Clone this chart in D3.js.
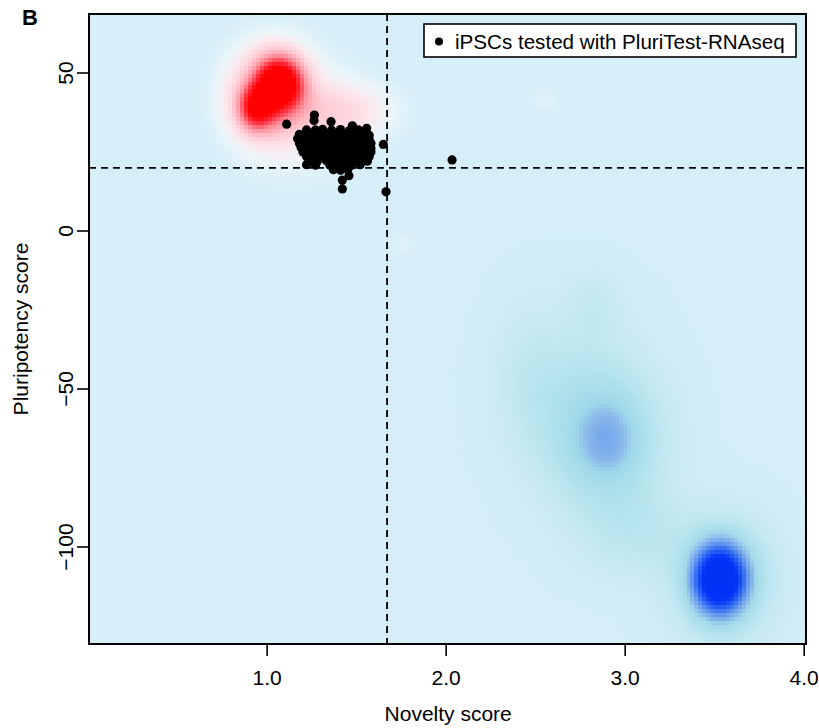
<!DOCTYPE html>
<html><head><meta charset="utf-8">
<script src="https://cdn.jsdelivr.net/npm/d3@7"></script>
<style>body{margin:0;background:#fff} text{font-family:"Liberation Sans",Arial,Helvetica,sans-serif;fill:#000}</style>
</head><body><svg id="c" width="819" height="728"></svg>
<script>
// ---- data ----
const xTicks = [1.0, 2.0, 3.0, 4.0];
const xTickLabels = ["1.0", "2.0", "3.0", "4.0"];
const yTicks = [50, 0, -50, -100];
const yTickLabels = ["50", "0", "\u221250", "\u2212100"];
const noveltyThreshold = 1.67;
const pluripotencyThreshold = 20;
const legendLabel = "iPSCs tested with PluriTest-RNAseq";

// iPSC samples: [novelty, pluripotency]
const samples = [
  [1.22,32.0],[1.27,32.0],[1.31,32.2],[1.36,31.9],[1.41,32.1],[1.46,31.8],[1.51,32.0],[1.55,31.7],
  [1.18,30.6],[1.22,30.4],[1.26,30.7],[1.30,30.5],[1.34,30.8],[1.38,30.5],[1.42,30.6],[1.46,30.4],[1.50,30.7],[1.54,30.5],[1.57,30.3],
  [1.17,29.2],[1.21,29.0],[1.25,29.3],[1.29,29.1],[1.33,29.2],[1.37,29.4],[1.41,29.0],[1.45,29.2],[1.49,29.3],[1.53,29.0],[1.57,29.1],
  [1.18,27.8],[1.22,27.6],[1.26,27.9],[1.30,27.7],[1.34,27.8],[1.38,28.0],[1.42,27.6],[1.46,27.8],[1.50,27.9],[1.54,27.7],[1.58,27.8],
  [1.19,26.4],[1.23,26.2],[1.27,26.5],[1.31,26.3],[1.35,26.4],[1.39,26.6],[1.43,26.3],[1.47,26.4],[1.51,26.5],[1.55,26.3],[1.58,26.2],
  [1.20,25.0],[1.24,24.8],[1.28,25.1],[1.32,24.9],[1.36,25.0],[1.40,25.2],[1.44,24.9],[1.48,25.0],[1.52,25.1],[1.56,24.8],[1.58,25.0],
  [1.22,23.6],[1.26,23.4],[1.30,23.7],[1.34,23.5],[1.38,23.6],[1.42,23.8],[1.46,23.5],[1.50,23.6],[1.54,23.4],[1.57,23.6],
  [1.24,22.2],[1.28,22.0],[1.33,22.3],[1.37,22.1],[1.41,22.2],[1.45,22.4],[1.49,22.0],[1.53,22.2],[1.56,22.1],
  [1.22,21.0],[1.27,20.8],[1.35,20.9],[1.39,20.6],[1.43,20.8],[1.47,20.7],[1.52,21.0],
  [1.37,19.4],[1.41,19.2],[1.45,19.5],
  [1.109,33.8],[1.264,36.7],[1.262,35.0],[1.357,34.6],[1.476,33.3],[1.556,32.5],
  [1.649,27.4],[1.664,12.4],[1.420,16.1],[1.420,13.3],[1.457,17.5],[2.033,22.5]
];

// density background: blobs [centre novelty, centre pluripotency, spread x, spread y, weight]
const pluripotentDensity = [
  [1.07, 47, 0.085, 5.5, 0.9],
  [0.94, 39, 0.065, 4.5, 0.6],
  [1.02, 43, 0.14, 9.0, 0.35],
  [1.42, 38, 0.17, 5.5, 0.13],
  [1.20, 37, 0.20, 10.0, 0.08],
  [2.55, 41.5, 0.05, 2.5, 0.02],
  [1.76, -4, 0.05, 2.5, 0.015]
];
const otherDensity = [
  [3.53, -110, 0.095, 7.0, 1.25],
  [3.55, -110, 0.19, 12.5, 0.2],
  [2.90, -66, 0.11, 8.0, 0.17],
  [2.88, -66, 0.22, 15, 0.2],
  [2.72, -50, 0.25, 18, 0.07],
  [2.45, -45, 0.12, 15, 0.045],
  [2.82, -23, 0.10, 7, 0.05],
  [3.05, -95, 0.22, 10, 0.08]
];

// ---- layout ----
const svg = d3.select("#c");
const L = 89, R = 806, T = 14, B = 644;
const x = d3.scaleLinear().domain([0.005, 4.01]).range([L, R]);
const y = d3.scaleLinear().domain([50, -100]).range([73, 547]);
const yTop = y.invert(T), yBot = y.invert(B);

const redRamp = d3.scaleLinear()
  .domain([0, 0.035, 0.09, 0.2, 0.4, 0.6, 0.8])
  .range(['#d5eef8', '#ebf6fa', '#fbe9ee', '#ffcdd5', '#ff8c98', '#ff3040', '#ff0000'])
  .clamp(true);
const blueRamp = d3.scaleLinear()
  .domain([0, 0.03, 0.08, 0.15, 0.25, 0.33, 0.4, 0.6, 0.85, 1])
  .range(['#d5eef8', '#cdebf4', '#c0e7f0', '#aee1ea', '#a0d8ea', '#8ab8ea', '#7aaaec', '#3a74f2', '#0a3ef6', '#0033f5'])
  .clamp(true);

function dens(blobs, px, py) {
  let s = 0;
  for (const [cx, cy, sx, sy, w] of blobs) {
    const dx = (px - cx) / sx, dy = (py - cy) / sy;
    s += w * Math.exp(-0.5 * (dx * dx + dy * dy));
  }
  return s;
}

const nx = 180, ny = 160;
const xs = d3.range(nx + 1).map(i => x.domain()[0] + (x.domain()[1] - x.domain()[0]) * i / nx);
const ys = d3.range(ny + 1).map(j => yBot + (yTop - yBot) * j / ny);
const cells = [];
for (let i = 0; i < nx; i++) for (let j = 0; j < ny; j++) {
  const cx = (xs[i] + xs[i + 1]) / 2, cy = (ys[j] + ys[j + 1]) / 2;
  const r = dens(pluripotentDensity, cx, cy), b = dens(otherDensity, cx, cy);
  cells.push({x0: xs[i], x1: xs[i + 1], y0: ys[j], y1: ys[j + 1], c: r > b ? redRamp(r - b) : blueRamp(b - r)});
}

svg.append("clipPath").attr("id", "pc").append("rect")
  .attr("x", L).attr("y", T).attr("width", R - L).attr("height", B - T);
const plot = svg.append("g").attr("clip-path", "url(#pc)");
plot.append("g").attr("shape-rendering", "crispEdges").selectAll("rect").data(cells).join("rect")
  .attr("x", d => x(d.x0)).attr("y", d => y(d.y1))
  .attr("width", d => x(d.x1) - x(d.x0) + 0.6).attr("height", d => y(d.y0) - y(d.y1) + 0.6)
  .attr("fill", d => d.c);

// threshold lines
plot.append("line").attr("x1", L).attr("x2", R)
  .attr("y1", y(pluripotencyThreshold)).attr("y2", y(pluripotencyThreshold))
  .attr("stroke", "#000").attr("stroke-width", 1.8).attr("stroke-dasharray", "7,5");
plot.append("line").attr("x1", x(noveltyThreshold)).attr("x2", x(noveltyThreshold))
  .attr("y1", T).attr("y2", B)
  .attr("stroke", "#000").attr("stroke-width", 1.8).attr("stroke-dasharray", "7,5");

// points
plot.append("g").selectAll("circle").data(samples).join("circle")
  .attr("cx", d => x(d[0])).attr("cy", d => y(d[1])).attr("r", 4.6).attr("fill", "#000");

// box
svg.append("rect").attr("x", L).attr("y", T).attr("width", R - L).attr("height", B - T)
  .attr("fill", "none").attr("stroke", "#000").attr("stroke-width", 2);

// axes
const xAxis = svg.append("g");
xAxis.selectAll("line").data(xTicks).join("line")
  .attr("x1", d => x(d)).attr("x2", d => x(d)).attr("y1", B).attr("y2", B + 12)
  .attr("stroke", "#000").attr("stroke-width", 1.6);
xAxis.selectAll("text").data(xTicks).join("text")
  .attr("x", d => x(d)).attr("y", 685).attr("text-anchor", "middle")
  .attr("font-size", 21).text((d, i) => xTickLabels[i]);
svg.append("text").attr("x", x(2.0) + 2).attr("y", 721).attr("text-anchor", "middle")
  .attr("font-size", 21).text("Novelty score");

const yAxis = svg.append("g");
yAxis.selectAll("line").data(yTicks).join("line")
  .attr("x1", L - 12).attr("x2", L).attr("y1", d => y(d)).attr("y2", d => y(d))
  .attr("stroke", "#000").attr("stroke-width", 1.6);
yAxis.selectAll("text").data(yTicks).join("text")
  .attr("transform", d => `translate(73,${y(d)}) rotate(-90)`)
  .attr("text-anchor", "middle").attr("font-size", 21).text((d, i) => yTickLabels[i]);
svg.append("text").attr("transform", `translate(28,${(T + B) / 2}) rotate(-90)`)
  .attr("text-anchor", "middle").attr("font-size", 21).text("Pluripotency score");

// panel letter
svg.append("text").attr("x", 22).attr("y", 25).attr("font-size", 22).attr("font-weight", "bold").text("B");

// legend
const lg = svg.append("g");
lg.append("rect").attr("x", 424).attr("y", 24).attr("width", 372).attr("height", 33)
  .attr("fill", "#fff").attr("stroke", "#000").attr("stroke-width", 1.6);
lg.append("circle").attr("cx", 439).attr("cy", 41.5).attr("r", 4).attr("fill", "#000");
lg.append("text").attr("x", 455).attr("y", 48.5).attr("font-size", 20.6).text(legendLabel);
</script></body></html>
